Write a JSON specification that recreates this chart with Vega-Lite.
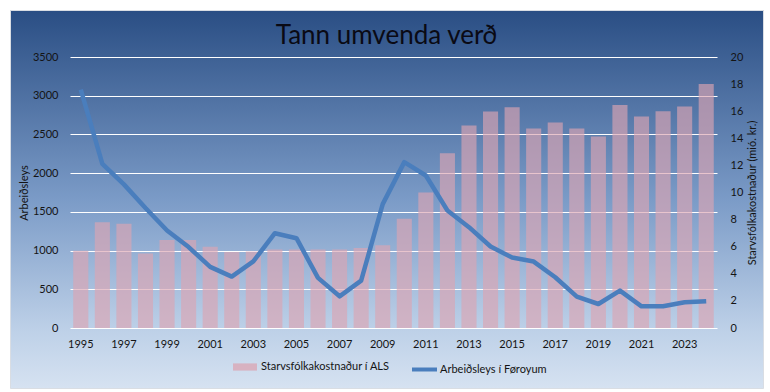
{
  "$schema": "https://vega.github.io/schema/vega-lite/v6.json",
  "width": 753,
  "height": 378,
  "autosize": {"type": "none"},
  "padding": {"left": 10, "top": 10, "right": 7, "bottom": 4},
  "background": "white",
  "view": {
    "stroke": "#d9dde3",
    "fill": {
      "gradient": "linear",
      "x1": 0, "y1": 0, "x2": 0, "y2": 1,
      "stops": [
        {"offset": 0, "color": "#2a4e84"},
        {"offset": 0.5, "color": "#7b9bc7"},
        {"offset": 0.85, "color": "#bed1e8"},
        {"offset": 1, "color": "#d6e2f1"}
      ]
    }
  },
  "config": {
    "font": "Lato",
    "axis": {"labelFont": "Lato", "titleFont": "Lato", "labelFontSize": 11, "titleFontSize": 11, "labelColor": "#141414", "titleColor": "#141414", "titleFontWeight": "normal"},
    "legend": {"labelFont": "Lato", "labelFontSize": 11, "labelColor": "#141414"}
  },
  "title": {
    "text": "Tann umvenda verð",
    "font": "Lato",
    "fontSize": 26,
    "fontWeight": "normal",
    "color": "#0a0a14",
    "anchor": "middle",
    "frame": "group",
    "baseline": "alphabetic",
    "offset": -60
  },
  "data": {
    "values": [
      {"year": 1995, "cost": 5.7, "unemp": 3080},
      {"year": 1996, "cost": 7.8, "unemp": 2120},
      {"year": 1997, "cost": 7.7, "unemp": 1855},
      {"year": 1998, "cost": 5.5, "unemp": 1550},
      {"year": 1999, "cost": 6.5, "unemp": 1260},
      {"year": 2000, "cost": 6.5, "unemp": 1045},
      {"year": 2001, "cost": 6.0, "unemp": 790},
      {"year": 2002, "cost": 5.6, "unemp": 664},
      {"year": 2003, "cost": 5.65, "unemp": 860},
      {"year": 2004, "cost": 5.8, "unemp": 1224},
      {"year": 2005, "cost": 5.8, "unemp": 1160},
      {"year": 2006, "cost": 5.8, "unemp": 647},
      {"year": 2007, "cost": 5.8, "unemp": 409},
      {"year": 2008, "cost": 5.9, "unemp": 612},
      {"year": 2009, "cost": 6.1, "unemp": 1600},
      {"year": 2010, "cost": 8.07, "unemp": 2142},
      {"year": 2011, "cost": 10.0, "unemp": 1970},
      {"year": 2012, "cost": 12.9, "unemp": 1517},
      {"year": 2013, "cost": 14.95, "unemp": 1302},
      {"year": 2014, "cost": 15.97, "unemp": 1052},
      {"year": 2015, "cost": 16.3, "unemp": 910},
      {"year": 2016, "cost": 14.73, "unemp": 858},
      {"year": 2017, "cost": 15.17, "unemp": 655},
      {"year": 2018, "cost": 14.73, "unemp": 405},
      {"year": 2019, "cost": 14.14, "unemp": 310},
      {"year": 2020, "cost": 16.45, "unemp": 483},
      {"year": 2021, "cost": 15.6, "unemp": 280},
      {"year": 2022, "cost": 16.0, "unemp": 280},
      {"year": 2023, "cost": 16.35, "unemp": 332},
      {"year": 2024, "cost": 18.0, "unemp": 345}
    ]
  },
  "layer": [
    {
      "mark": {"type": "bar", "opacity": 0.65},
      "encoding": {
        "x": {
          "field": "year",
          "type": "ordinal",
          "scale": {"range": [60, 707], "paddingInner": 0.3, "paddingOuter": 0.15},
          "axis": {
            "orient": "bottom",
            "offset": -60,
            "values": [1995, 1997, 1999, 2001, 2003, 2005, 2007, 2009, 2011, 2013, 2015, 2017, 2019, 2021, 2023],
            "labelAngle": 0,
            "labelPadding": 10,
            "domain": false,
            "ticks": false,
            "grid": false,
            "title": null
          }
        },
        "y": {
          "field": "cost",
          "type": "quantitative",
          "scale": {"domain": [0, 20], "range": [318, 47], "nice": false},
          "axis": {
            "orient": "right",
            "offset": -46,
            "values": [0, 2, 4, 6, 8, 10, 12, 14, 16, 18, 20],
            "format": "d",
            "labelPadding": 13,
            "domain": false,
            "ticks": false,
            "grid": false,
            "title": "Starvsfólkakostnaður (mió. kr.)",
            "titleAngle": 270,
            "titlePadding": 15
          }
        },
        "fill": {
          "datum": "Starvsfólkakostnaður í ALS",
          "type": "nominal",
          "scale": {"range": ["#dba4b2"]},
          "legend": {
            "orient": "none",
            "direction": "horizontal",
            "legendX": 223,
            "legendY": 345,
            "title": null,
            "padding": 0,
            "symbolSize": 576,
            "symbolType": "M-1,-0.3H1V0.3H-1Z",
            "symbolOpacity": 0.75,
            "symbolStrokeWidth": 0,
            "labelOffset": 4
          }
        }
      }
    },
    {
      "mark": {"type": "line", "strokeWidth": 4.5, "strokeJoin": "round"},
      "encoding": {
        "x": {"field": "year", "type": "ordinal"},
        "y": {
          "field": "unemp",
          "type": "quantitative",
          "scale": {"domain": [0, 3500], "range": [318, 47], "nice": false},
          "axis": {
            "orient": "left",
            "offset": -60,
            "values": [0, 500, 1000, 1500, 2000, 2500, 3000, 3500],
            "format": "d",
            "labelPadding": 12,
            "domain": false,
            "ticks": false,
            "grid": true,
            "gridColor": "white",
            "gridWidth": 1.2,
            "title": "Arbeiðsleys",
            "titlePadding": 3
          }
        },
        "stroke": {
          "datum": "Arbeiðsleys í Føroyum",
          "type": "nominal",
          "scale": {"range": ["#4a7ebd"]},
          "legend": {
            "orient": "none",
            "direction": "horizontal",
            "legendX": 400,
            "legendY": 345,
            "title": null,
            "padding": 0,
            "symbolSize": 625,
            "symbolType": "stroke",
            "symbolStrokeWidth": 4,
            "labelOffset": 1
          }
        }
      }
    }
  ],
  "resolve": {"scale": {"y": "independent"}, "axis": {"y": "independent"}}
}
